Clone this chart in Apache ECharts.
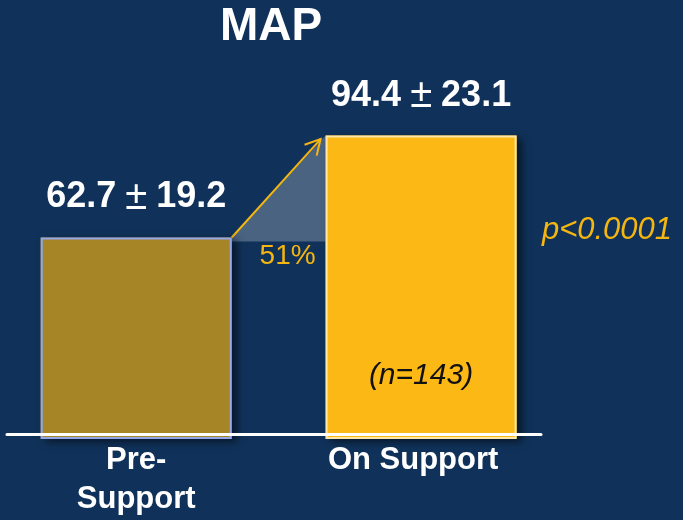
<!DOCTYPE html>
<html>
<head>
<meta charset="utf-8">
<title>MAP</title>
<script src="https://cdn.jsdelivr.net/npm/echarts@6/dist/echarts.min.js"></script>
<style>
  html, body { margin: 0; padding: 0; background: #10325a; }
  #chart { width: 683px; height: 520px; }
</style>
</head>
<body>
<div id="chart"></div>
<script>
// Mean arterial pressure before and on support
const categories = ['Pre-\nSupport', 'On Support'];
const meanMAP = [62.7, 94.4];
const sdMAP = [19.2, 23.1];
const sampleN = 143;
const pText = 'p<0.0001';

const FONT = '"Liberation Sans", Arial, sans-serif';
const BAR_W = 191;
const YELLOW = '#f5b60f';
const barStyles = [
  { color: '#a68526', borderColor: '#93a6ea' },
  { color: '#fcb815', borderColor: '#fde8a8' }
];

const chart = echarts.init(document.getElementById('chart'));

const pctIncrease = Math.round((meanMAP[1] - meanMAP[0]) / meanMAP[0] * 100);
const barPoints = meanMAP.map(function (v, i) { return [i, v]; });

chart.setOption({
  backgroundColor: '#10325a',
  animation: false,
  title: {
    text: 'MAP',
    left: 220,
    top: 4,
    padding: 0,
    textStyle: { color: '#ffffff', fontSize: 46, fontWeight: 'bold', fontFamily: FONT }
  },
  grid: { left: 7, right: 142, top: 117.6, bottom: 81 },
  xAxis: {
    type: 'value',
    min: -0.4535,
    max: 1.4208,
    offset: -5,
    z: 10,
    splitLine: { show: false },
    axisTick: { show: false },
    axisLine: { show: true, onZero: false, lineStyle: { color: '#ffffff', width: 3 } },
    axisLabel: {
      customValues: [0, 1],
      margin: 7,
      verticalAlign: 'top',
      formatter: function (v) {
        const i = Math.round(v);
        return '{c' + i + '|' + categories[i] + '}';
      },
      rich: {
        c0: { color: '#ffffff', fontSize: 31, fontWeight: 'bold', fontFamily: FONT, lineHeight: 39, align: 'center' },
        c1: { color: '#ffffff', fontSize: 31, fontWeight: 'bold', fontFamily: FONT, lineHeight: 39, padding: [0, 16, 0, 0] }
      }
    }
  },
  yAxis: { type: 'value', min: 0, max: 100, show: false },
  series: [
    {
      // increase wedge, arrow and percent change between the two bars
      type: 'custom',
      z: 1,
      clip: false,
      data: [[0, meanMAP[0], 1, meanMAP[1]]],
      encode: { x: [0, 2], y: [1, 3] },
      renderItem: function (params, api) {
        const p0 = api.coord([api.value(0), api.value(1)]);
        const p1 = api.coord([api.value(2), api.value(3)]);
        const half = BAR_W / 2;
        const x0 = p0[0] + half, y0 = p0[1];
        const x1 = p1[0] - half, y1 = p1[1];
        const tip = [x1 - 5, y1 + 3.5];
        const ang = Math.atan2(tip[1] - y0, tip[0] - x0);
        const L = 17, spread = 0.5;
        const w1 = [tip[0] - L * Math.cos(ang - spread), tip[1] - L * Math.sin(ang - spread)];
        const w2 = [tip[0] - L * Math.cos(ang + spread), tip[1] - L * Math.sin(ang + spread)];
        return {
          type: 'group',
          children: [
            { type: 'polygon', shape: { points: [[x0, y0], [x1, y1], [x1, y0 + 4], [x0, y0 + 4]] },
              style: { fill: 'rgba(255,255,255,0.24)' } },
            { type: 'line', shape: { x1: x0, y1: y0, x2: tip[0], y2: tip[1] },
              style: { stroke: YELLOW, lineWidth: 2 } },
            { type: 'polyline', shape: { points: [w1, tip, w2] },
              style: { stroke: YELLOW, lineWidth: 2, fill: null } },
            { type: 'text', x: x1 - 10, y: y0 + 19,
              style: { text: pctIncrease + '%', fill: YELLOW, font: '28px ' + FONT,
                       align: 'right', verticalAlign: 'middle' } }
          ]
        };
      }
    },
    {
      // filled bars with drop shadow
      type: 'bar',
      z: 2,
      barWidth: BAR_W,
      barGap: '-100%',
      data: barPoints.map(function (d, i) {
        return {
          value: d,
          itemStyle: {
            color: barStyles[i].color,
            shadowColor: 'rgba(0,0,0,0.55)',
            shadowBlur: 8,
            shadowOffsetX: 5,
            shadowOffsetY: 3
          }
        };
      }),
      label: {
        show: true,
        position: 'top',
        distance: 22,
        formatter: function (p) {
          return '{v|' + meanMAP[p.dataIndex].toFixed(1) + '}{pm|±}{v|' + sdMAP[p.dataIndex].toFixed(1) + '}';
        },
        rich: {
          v: { color: '#ffffff', fontSize: 36, fontWeight: 'bold', fontFamily: FONT, lineHeight: 36 },
          pm: { color: '#ffffff', fontSize: 40, fontFamily: FONT, lineHeight: 36, padding: [0, 9] }
        }
      }
    },
    {
      // thin bar outlines drawn over the fills
      type: 'bar',
      z: 3,
      silent: true,
      barWidth: BAR_W,
      barGap: '-100%',
      data: barPoints.map(function (d, i) {
        return {
          value: d,
          itemStyle: { color: 'rgba(0,0,0,0)', borderColor: barStyles[i].borderColor, borderWidth: 2 }
        };
      })
    }
  ],
  graphic: [
    { type: 'text', x: 421, y: 376, z: 20,
      style: { text: '(n=' + sampleN + ')', font: 'italic 30px ' + FONT, fill: '#111111',
               align: 'center', verticalAlign: 'middle' } },
    { type: 'text', x: 607, y: 230, z: 20,
      style: { text: pText, font: 'italic 31px ' + FONT, fill: YELLOW,
               align: 'center', verticalAlign: 'middle' } }
  ]
});
</script>
</body>
</html>
